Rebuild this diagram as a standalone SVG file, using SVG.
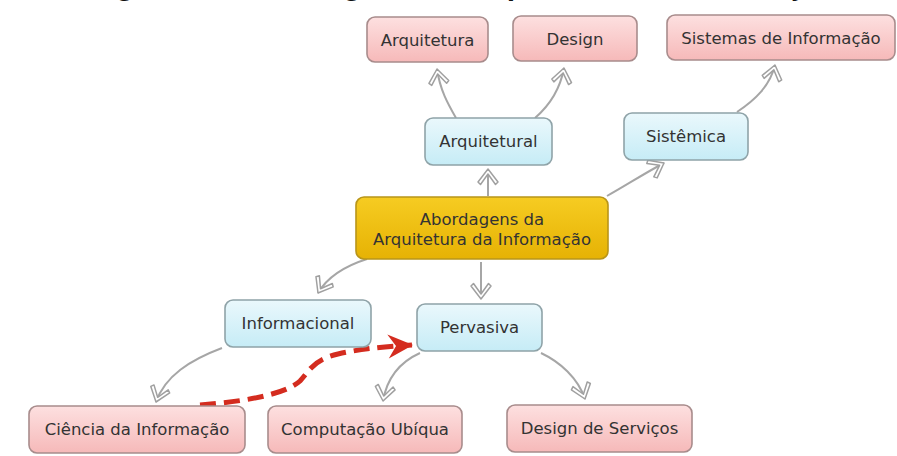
<svg xmlns="http://www.w3.org/2000/svg" width="897" height="456" viewBox="0 0 897 456">
<style>
  .lbl { font-family: "DejaVu Sans", "Liberation Sans", sans-serif; font-size: 16.5px; fill: #333; text-anchor: middle; }
  .pink rect { fill: url(#gPink); stroke: #a88c8c; stroke-width: 1.6; }
  .blue rect { fill: url(#gBlue); stroke: #8fa3a8; stroke-width: 1.6; }
  .yellow rect { fill: url(#gYellow); stroke: #b8951a; stroke-width: 1.6; }
  .conn { fill: none; stroke: #a6a6a6; stroke-width: 2; marker-end: url(#chev); }
  .red { fill: none; stroke: #d42c1f; stroke-width: 5; stroke-dasharray: 16 8; marker-end: url(#redArrow); }
  .title { font-family: "Liberation Sans", Arial, sans-serif; font-weight: bold; font-size: 30px; fill: #111; }
</style>
<defs>
  <linearGradient id="gPink" x1="0" y1="0" x2="0" y2="1">
    <stop offset="0" stop-color="#fde0e0"/>
    <stop offset="1" stop-color="#f6b9b9"/>
  </linearGradient>
  <linearGradient id="gBlue" x1="0" y1="0" x2="0" y2="1">
    <stop offset="0" stop-color="#eaf8fc"/>
    <stop offset="1" stop-color="#c6ecf6"/>
  </linearGradient>
  <linearGradient id="gYellow" x1="0" y1="0" x2="0" y2="1">
    <stop offset="0" stop-color="#f6cc22"/>
    <stop offset="1" stop-color="#e6b204"/>
  </linearGradient>
  <marker id="chev" markerUnits="userSpaceOnUse" viewBox="-18 -12 21 24" refX="0" refY="0" markerWidth="21" markerHeight="24" orient="auto">
    <path d="M0,0 L-13,-10 L-15.5,-7.5 L-5,0 L-15.5,7.5 L-13,10 Z" fill="#fff" stroke="#a0a0a0" stroke-width="1.5" stroke-linejoin="round"/>
  </marker>
  <marker id="redArrow" markerUnits="userSpaceOnUse" viewBox="-28 -14 30 28" refX="0" refY="0" markerWidth="30" markerHeight="28" orient="auto">
    <path d="M1,0 L-24,-12 L-16,0 L-24,12 Z" fill="#d42c1f"/>
  </marker>
</defs>
<rect width="897" height="456" fill="#fff"/>
<text class="title" x="89" y="-5">Figura 1 – Abordagens da Arquitetura da Informação</text>

<g id="connectors">
  <path class="conn" d="M456,118 C448,104 440,90 437,69"/>
  <path class="conn" d="M535,118 C550,105 560,90 564,68"/>
  <path class="conn" d="M737,112 C755,100 770,86 775,65"/>
  <path class="conn" d="M607,196 C625,186 645,173 664,163"/>
  <path class="conn" d="M488,196 L488,169"/>
  <path class="conn" d="M367,259 C345,266 328,276 318,293"/>
  <path class="conn" d="M481,262 L481,299"/>
  <path class="conn" d="M222,348 C190,360 165,376 156,402"/>
  <path class="conn" d="M420,353 C400,362 387,378 383,401"/>
  <path class="conn" d="M541,353 C560,362 578,378 585,399"/>
  <path class="red" d="M200,405 C240,402 285,395 300,381 C311,369 313,360 338,354 C360,349 380,347 412,345"/>
</g>

<g id="n-arquitetura" class="pink">
  <rect x="367" y="17" width="121" height="45" rx="8"/>
  <text class="lbl" x="427.5" y="45.5">Arquitetura</text>
</g>
<g id="n-design" class="pink">
  <rect x="513" y="16" width="124" height="45" rx="8"/>
  <text class="lbl" x="575" y="44.5">Design</text>
</g>
<g id="n-sistemas" class="pink">
  <rect x="667" y="15" width="228" height="45" rx="8"/>
  <text class="lbl" x="781" y="43.5">Sistemas de Informação</text>
</g>
<g id="n-arquitetural" class="blue">
  <rect x="425" y="118" width="127" height="47" rx="8"/>
  <text class="lbl" x="488.5" y="147">Arquitetural</text>
</g>
<g id="n-sistemica" class="blue">
  <rect x="624" y="113" width="124" height="47" rx="8"/>
  <text class="lbl" x="686" y="142">Sistêmica</text>
</g>
<g id="n-abordagens" class="yellow">
  <rect x="356" y="197" width="252" height="62" rx="8"/>
  <text class="lbl" x="482" y="225">Abordagens da</text>
  <text class="lbl" x="482" y="244.5">Arquitetura da Informação</text>
</g>
<g id="n-informacional" class="blue">
  <rect x="225" y="300" width="146" height="47" rx="8"/>
  <text class="lbl" x="298" y="329">Informacional</text>
</g>
<g id="n-pervasiva" class="blue">
  <rect x="417" y="304" width="125" height="47" rx="8"/>
  <text class="lbl" x="479.5" y="333">Pervasiva</text>
</g>
<g id="n-ciencia" class="pink">
  <rect x="29" y="406" width="216" height="47" rx="8"/>
  <text class="lbl" x="137" y="435">Ciência da Informação</text>
</g>
<g id="n-computacao" class="pink">
  <rect x="268" y="406" width="194" height="47" rx="8"/>
  <text class="lbl" x="365" y="435">Computação Ubíqua</text>
</g>
<g id="n-design-servicos" class="pink">
  <rect x="507" y="405" width="185" height="47" rx="8"/>
  <text class="lbl" x="599.5" y="434">Design de Serviços</text>
</g>
</svg>
